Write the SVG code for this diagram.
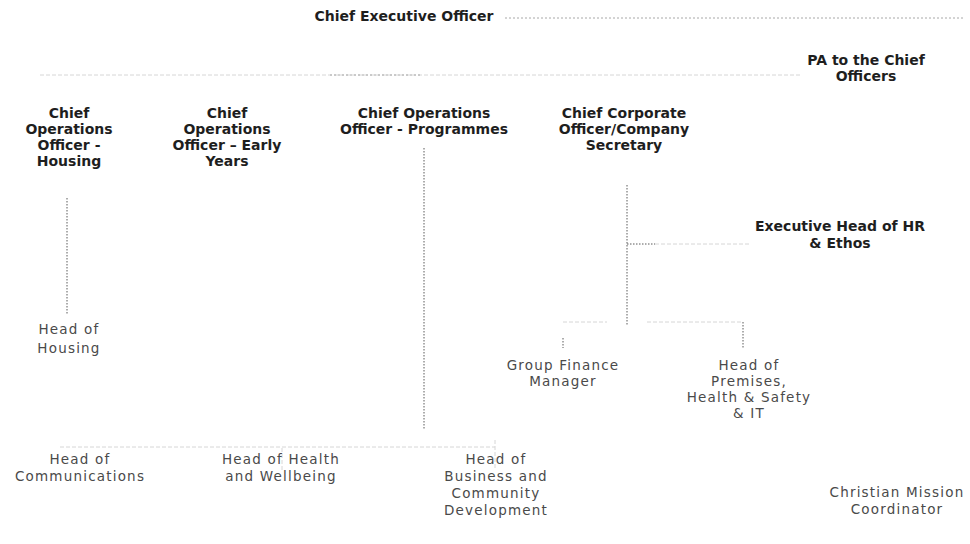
<svg xmlns="http://www.w3.org/2000/svg" width="970" height="544" viewBox="0 0 970 544">
  <style>
    .t { font-family: "DejaVu Sans", Verdana, sans-serif; text-anchor: middle; }
    .b { font-size: 14px; font-weight: bold; fill: #1e1e1e; }
    .n { font-size: 13.5px; font-weight: normal; fill: #4a4a4a; letter-spacing: 1.2px; }
    .faint { stroke: #d6d6d6; stroke-width: 1; fill: none; stroke-dasharray: 4 2; }
    .dot { stroke: #5a5a5a; stroke-width: 1; fill: none; stroke-dasharray: 1.5 1.5; }
    .mid { stroke: #a8a8a8; stroke-width: 1; fill: none; stroke-dasharray: 2 2; }
  </style>
  <rect width="970" height="544" fill="#ffffff"/>

  <!-- reporting lines -->
  <g id="connectors">
    <!-- CEO to PA -->
    <line class="mid" x1="505" y1="18" x2="965" y2="18"/>
    <!-- chief officers bar -->
    <line class="faint" x1="40" y1="75" x2="800" y2="75"/>
    <line class="mid" x1="330" y1="75" x2="420" y2="75"/>
    <!-- Housing -->
    <line class="dot" x1="67" y1="198" x2="67" y2="315"/>
    <!-- Programmes trunk -->
    <line class="dot" x1="424" y1="148" x2="424" y2="430"/>
    <line class="faint" x1="60" y1="447" x2="495" y2="447"/>
    <line class="faint" x1="282" y1="448" x2="282" y2="470"/>
    <line class="faint" x1="495" y1="440" x2="495" y2="470"/>
    <!-- Corporate trunk -->
    <line class="dot" x1="627" y1="185" x2="627" y2="325"/>
    <line class="dot" x1="627" y1="244" x2="655" y2="244"/>
    <line class="faint" x1="655" y1="244" x2="750" y2="244"/>
    <line class="faint" x1="563" y1="322" x2="607" y2="322"/>
    <line class="faint" x1="647" y1="322" x2="743" y2="322"/>
    <line class="dot" x1="743" y1="322" x2="743" y2="348"/>
    <line class="dot" x1="563" y1="338" x2="563" y2="348"/>
  </g>

  <g id="ceo"><text class="t b" x="404" y="21">Chief Executive Officer</text></g>
  <g id="pa"><text class="t b" x="866" y="65">PA to the Chief<tspan x="866" dy="16">Officers</tspan></text></g>

  <g id="coo-housing"><text class="t b" x="69" y="118">Chief<tspan x="69" dy="16">Operations</tspan><tspan x="69" dy="16">Officer -</tspan><tspan x="69" dy="16">Housing</tspan></text></g>
  <g id="coo-early-years"><text class="t b" x="227" y="118">Chief<tspan x="227" dy="16">Operations</tspan><tspan x="227" dy="16">Officer – Early</tspan><tspan x="227" dy="16">Years</tspan></text></g>
  <g id="coo-programmes"><text class="t b" x="424" y="118">Chief Operations<tspan x="424" dy="16">Officer - Programmes</tspan></text></g>
  <g id="cco"><text class="t b" x="624" y="118">Chief Corporate<tspan x="624" dy="16">Officer/Company</tspan><tspan x="624" dy="16">Secretary</tspan></text></g>
  <g id="hr"><text class="t b" x="840" y="231">Executive Head of HR<tspan x="840" dy="17">&amp; Ethos</tspan></text></g>

  <g id="head-housing"><text class="t n" x="69" y="334">Head of<tspan x="69" dy="19">Housing</tspan></text></g>
  <g id="finance"><text class="t n" x="563" y="370">Group Finance<tspan x="563" dy="16">Manager</tspan></text></g>
  <g id="premises"><text class="t n" x="749" y="370">Head of<tspan x="749" dy="16">Premises,</tspan><tspan x="749" dy="16">Health &amp; Safety</tspan><tspan x="749" dy="16">&amp; IT</tspan></text></g>

  <g id="comms"><text class="t n" x="80" y="464">Head of<tspan x="80" dy="17">Communications</tspan></text></g>
  <g id="health"><text class="t n" x="281" y="464">Head of Health<tspan x="281" dy="17">and Wellbeing</tspan></text></g>
  <g id="business"><text class="t n" x="496" y="464">Head of<tspan x="496" dy="17">Business and</tspan><tspan x="496" dy="17">Community</tspan><tspan x="496" dy="17">Development</tspan></text></g>
  <g id="mission"><text class="t n" x="897" y="497">Christian Mission<tspan x="897" dy="17">Coordinator</tspan></text></g>
</svg>
